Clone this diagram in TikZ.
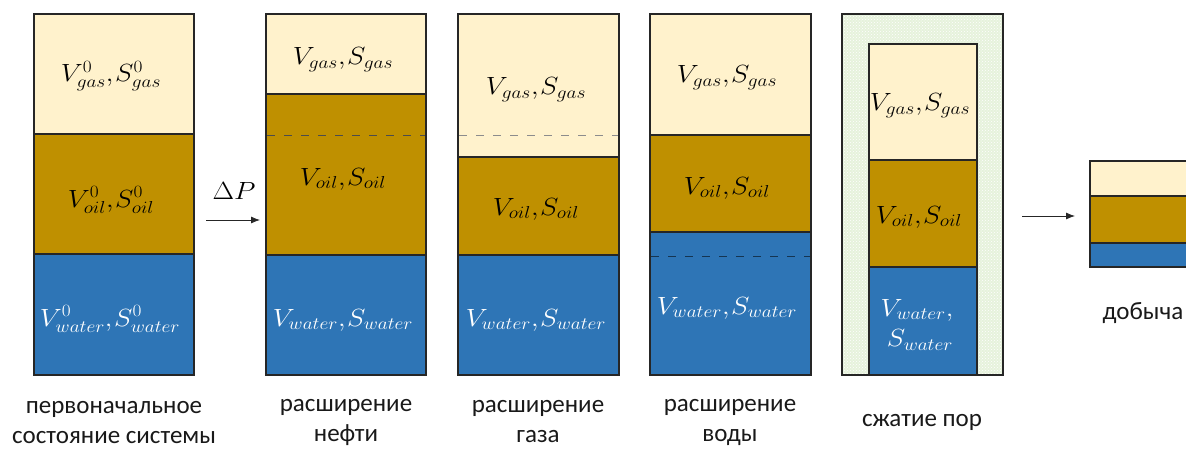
\documentclass[tikz,border=0pt]{standalone}
\usepackage{graphicx}
\usepackage{fontspec}
\setmainfont{Carlito}
\usetikzlibrary{arrows.meta,patterns}
\definecolor{gasc}{HTML}{FFF2CC}
\definecolor{oilc}{HTML}{BF9000}
\definecolor{waterc}{HTML}{2E75B6}
\definecolor{edgec}{HTML}{262626}
\definecolor{porec}{HTML}{E6F2DC}
\tikzset{
  gasbox/.style={fill=gasc,draw=edgec,line width=1.2pt},
  oilbox/.style={fill=oilc,draw=edgec,line width=1.2pt},
  waterbox/.style={fill=waterc,draw=edgec,line width=1.2pt},
  porebox/.style={preaction={fill=porec},pattern=crosshatch dots,pattern color=white,draw=edgec,line width=1.2pt},
  vtxt/.style={font=\fontsize{26.5}{30}\selectfont,inner sep=0pt},
  wtxt/.style={vtxt,text=white},
  lbl/.style={font=\fontsize{25}{30}\selectfont,align=center,text=black!90,inner sep=0pt},
  dline/.style={draw=#1,line width=0.9pt,dash pattern=on 8pt off 9pt},
  arr/.style={-{Latex[length=9pt,width=7pt]},line width=0.8pt,draw=black!85}
}
\newcommand{\mx}[1]{\scalebox{1.12}[1]{$#1$}}
\begin{document}
\begin{tikzpicture}[x=1pt,y=-1pt]
\useasboundingbox (0,0) rectangle (1186,450);
\clip (0,0) rectangle (1186,450);
% column 1
\draw[gasbox] (34,14) rectangle (194,134);
\draw[oilbox] (34,134) rectangle (194,254);
\draw[waterbox] (34,254) rectangle (194,375);
\node[vtxt] (g1) at (111,76) {\mx{V^0_{gas}{,}\mskip1mu S^0_{gas}}};
\node[vtxt] (o1) at (111,200) {\mx{V^0_{oil}{,}\mskip1mu S^0_{oil}}};
\node[wtxt] (w1) at (110,319) {\mx{V^0_{water}{,}\mskip1mu S^0_{water}}};
\node[lbl] (l1) at (114,423) {первоначальное\\состояние системы};
% arrow dP
\coordinate (a1s) at (206,220);
\coordinate (a1e) at (260,220);
\draw[arr] (a1s) -- (a1e);
\node[vtxt] (dp) at (234,191) {\mx{\Delta P}};
% column 2
\draw[gasbox] (266,14) rectangle (426,94);
\draw[oilbox] (266,94) rectangle (426,255);
\draw[waterbox] (266,255) rectangle (426,375);
\coordinate (d2a) at (267,135);
\coordinate (d2b) at (425,135);
\draw[dline=black!70] (d2a) -- (d2b);
\node[vtxt] (g2) at (343,60) {\mx{V_{gas}{,}\mskip1mu S_{gas}}};
\node[vtxt] (o2) at (343,179) {\mx{V_{oil}{,}\mskip1mu S_{oil}}};
\node[wtxt] (w2) at (343,320) {\mx{V_{water}{,}\mskip1mu S_{water}}};
\node[lbl] (l2) at (346,422) {расширение\\нефти};
% column 3
\draw[gasbox] (458,14) rectangle (619,157);
\draw[oilbox] (458,157) rectangle (619,255);
\draw[waterbox] (458,255) rectangle (619,375);
\coordinate (d3a) at (459,135);
\coordinate (d3b) at (618,135);
\draw[dline=black!45] (d3a) -- (d3b);
\node[vtxt] (g3) at (536,90) {\mx{V_{gas}{,}\mskip1mu S_{gas}}};
\node[vtxt] (o3) at (536,209) {\mx{V_{oil}{,}\mskip1mu S_{oil}}};
\node[wtxt] (w3) at (536,320) {\mx{V_{water}{,}\mskip1mu S_{water}}};
\node[lbl] (l3) at (538,422) {расширение\\газа};
% column 4
\draw[gasbox] (650,14) rectangle (811,135);
\draw[oilbox] (650,135) rectangle (811,232);
\draw[waterbox] (650,232) rectangle (811,375);
\coordinate (d4a) at (651,256);
\coordinate (d4b) at (810,256);
\draw[dline=black!55!waterc] (d4a) -- (d4b);
\node[vtxt] (g4) at (727,78) {\mx{V_{gas}{,}\mskip1mu S_{gas}}};
\node[vtxt] (o4) at (727,188) {\mx{V_{oil}{,}\mskip1mu S_{oil}}};
\node[wtxt] (w4) at (727,308) {\mx{V_{water}{,}\mskip1mu S_{water}}};
\node[lbl] (l4) at (730,422) {расширение\\воды};
% column 5
\draw[porebox] (842,14) rectangle (1003,375);
\draw[gasbox] (869,44) rectangle (977,160);
\draw[oilbox] (869,160) rectangle (977,267);
\draw[waterbox] (869,267) rectangle (977,375);
\node[vtxt] (g5) at (920,106) {\mx{V_{gas}{,}\mskip1mu S_{gas}}};
\node[vtxt] (o5) at (919,217) {\mx{V_{oil}{,}\mskip1mu S_{oil}}};
\node[wtxt] (w5a) at (917,310) {\mx{V_{water}{,}}};
\node[wtxt] (w5b) at (920,340) {\mx{S_{water}}};
\node[lbl] (l5) at (922,422) {сжатие пор};
% arrow 2
\coordinate (a2s) at (1022,216);
\coordinate (a2e) at (1075,216);
\draw[arr] (a2s) -- (a2e);
% column 6
\draw[gasbox] (1090,161) rectangle (1200,196);
\draw[oilbox] (1090,196) rectangle (1200,243);
\draw[waterbox] (1090,243) rectangle (1200,267);
\node[lbl] (l6) at (1143,313) {добыча};
\end{tikzpicture}
\end{document}
